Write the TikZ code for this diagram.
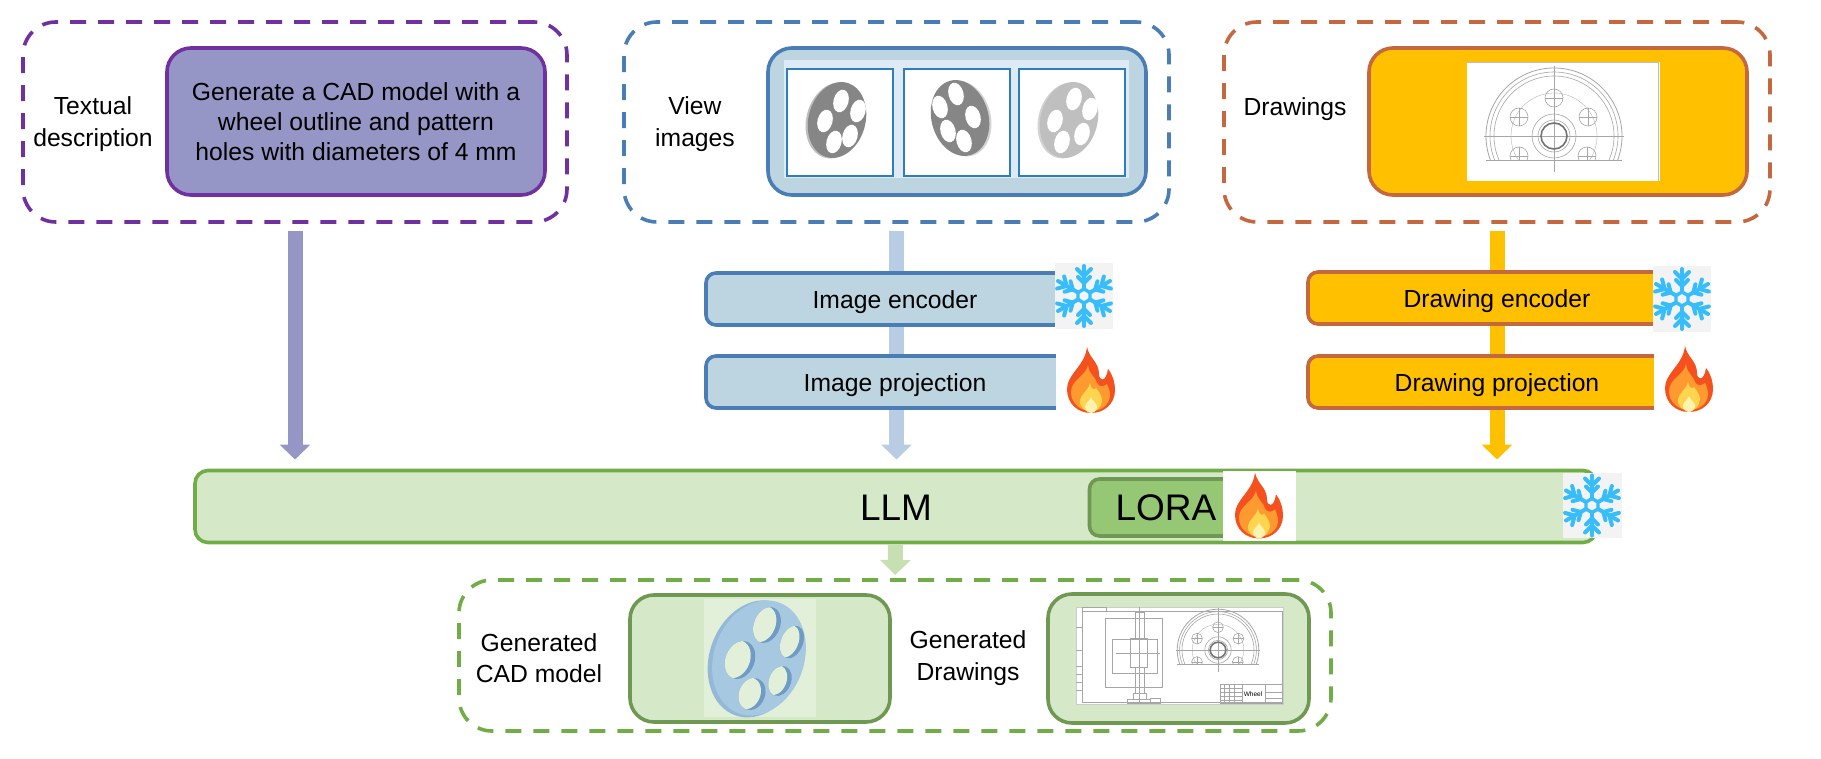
\documentclass[tikz,border=0pt]{standalone}
\usepackage{fontspec}
\setmainfont{Liberation Sans}
\usetikzlibrary{arrows.meta,calc}
\definecolor{pur}{HTML}{7030A0}
\definecolor{purf}{HTML}{9696C6}
\definecolor{blu}{HTML}{4A7DB5}
\definecolor{bluf}{HTML}{BDD5E0}
\definecolor{blua}{HTML}{B8CCE4}
\definecolor{org}{HTML}{C5673F}
\definecolor{orgf}{HTML}{FFC000}
\definecolor{grn}{HTML}{70AD47}
\definecolor{grnd}{HTML}{6F9853}
\definecolor{grnf}{HTML}{D5E8C8}
\definecolor{grna}{HTML}{C6E0B4}
\definecolor{lorf}{HTML}{95C775}
\definecolor{snow}{HTML}{38BDFB}
\definecolor{drw}{HTML}{A6A6A6}
\definecolor{imgbg}{HTML}{E2F0D9}
\definecolor{flameA}{HTML}{F4511E}
\definecolor{flameB}{HTML}{FF9A30}
\definecolor{flameC}{HTML}{FFD54F}
\definecolor{flameD}{HTML}{FFF3B0}
\definecolor{pbg}{HTML}{DEEAF6}
\definecolor{pln}{HTML}{2E7DBE}
\definecolor{cadf}{HTML}{A6C8E0}
\definecolor{cadr}{HTML}{93B9D6}
\definecolor{cadh}{HTML}{6F9CC4}
\definecolor{snbg}{HTML}{F3F3F3}
\tikzset{
  grp/.style={draw=#1,line width=3.6pt,dash pattern=on 16pt off 12pt,rounded corners=33pt,inner sep=0pt,outer sep=0pt},
  box/.style={line width=3.6pt,rounded corners=24pt,inner sep=0pt,outer sep=0pt},
  bar/.style={line width=3.6pt,rounded corners=10pt,inner sep=0pt,outer sep=0pt,font=\fontsize{24.7}{30}\selectfont,text height=19pt,text depth=0pt},
  lab/.style={align=center,inner sep=0pt,font=\fontsize{24.7}{30}\selectfont},
  big/.style={inner sep=0pt,font=\fontsize{37}{40}\selectfont},
  fat/.style={line width=15pt,-{Triangle[width=30pt,length=15pt]}},
  panel/.style={draw=pln,fill=white,line width=1.4pt,inner sep=0pt,outer sep=0pt},
  snowpic/.pic={
    \begin{scope}[draw=snow,line width=4pt,line cap=round]
      \foreach \a in {0,60,...,300}{
        \begin{scope}[rotate=\a]
          \draw (0,7) -- (0,30);
          \draw (-7,27) -- (0,20) -- (7,27);
          \draw (-6,19) -- (0,13) -- (6,19);
        \end{scope}}
      \draw[line width=3.4pt] (0,7) -- (6,3.5) -- (6,-3.5) -- (0,-7) -- (-6,-3.5) -- (-6,3.5) -- cycle;
    \end{scope}},
  flamepic/.pic={
    \fill[flameA] (-4,-33) .. controls (-2,-22) and (8,-18) .. (8,-6) .. controls (8,1) and (15,3) .. (17,-11) .. controls (22,-5) and (24,3) .. (24,10) .. controls (24,24) and (13,33) .. (0,33) .. controls (-13,33) and (-24,24) .. (-24,9) .. controls (-24,-6) and (-6,-14) .. (-4,-33) -- cycle;
    \fill[flameB] (-3,-15) .. controls (-2,-5) and (5,-3) .. (6,3) .. controls (8,8) and (14,6) .. (16,4) .. controls (19,10) and (19,14) .. (19,16) .. controls (18,26) and (9,31) .. (0,31) .. controls (-10,31) and (-20,24) .. (-20,12) .. controls (-20,0) and (-5,-4) .. (-3,-15) -- cycle;
    \fill[flameC] (-1,3) .. controls (0,9) and (3,11) .. (5,8) .. controls (9,13) and (11,17) .. (11,21) .. controls (10,28) and (5,32) .. (0,32) .. controls (-6,32) and (-12,27) .. (-11,20) .. controls (-10,14) and (-3,11) .. (-1,3) -- cycle;
    \fill[flameD] (0,17) .. controls (1,21) and (6,23) .. (6,27) .. controls (6,30) and (3,33) .. (0,33) .. controls (-3,33) and (-6,30) .. (-6,27) .. controls (-6,23) and (-1,21) .. (0,17) -- cycle;
  },
  halfwheel/.pic={
    \begin{scope}[draw=drw,line width=0.6pt]
      \begin{scope}
        \clip (-72,-72) rectangle (72,24);
        \draw[line width=0.8pt] (0,0) circle[radius=68];
        \draw (0,0) circle[radius=64];
        \draw (0,0) circle[radius=60];
        \draw[line width=0.3pt] (0,0) circle[radius=43];
        \foreach \p in {(0,-38),(-35,-19),(34,-19),(-35,20),(33,20)}{
          \draw \p circle[radius=9];
          \draw[line width=0.3pt] \p ++(-9,0) -- ++(18,0);
          \draw[line width=0.3pt] \p ++(0,-9) -- ++(0,18);}
      \end{scope}
      \draw (-68,24) -- (68,24);
      \draw[line width=0.3pt] (-70,0) -- (70,0);
      \draw[line width=0.3pt] (0,-70) -- (0,36);
      \draw (0,0) circle[radius=22];
      \draw[line width=1.6pt,draw=black!55] (0,0) circle[radius=13];
      \draw (0,0) circle[radius=16];
    \end{scope}}
}
\newcommand{\wheelicon}[8]{% cx cy angle fill holes rimcolor rimdx holesize
  \fill[#6,rotate around={#3:(#1,#2)}] (#1+#7,#2+1) ellipse[x radius=28.5pt,y radius=38.5pt];
  \fill[#4,rotate around={#3:(#1,#2)}] (#1,#2) ellipse[x radius=28.5pt,y radius=38.5pt];
  \foreach \hx/\hy in {#5}{
    \fill[white,rotate around={#3:(#1+\hx,#2+\hy)}] (#1+\hx,#2+\hy) ellipse[x radius=#8pt,y radius=11.5pt];}
}
\newcommand{\cadhole}[4]{% x y a b
  \begin{scope}[rotate around={-22:(#1,#2)}]
    \fill[cadh] (#1,#2) ellipse[x radius=#3pt,y radius=#4pt];
    \begin{scope}
      \clip (#1,#2) ellipse[x radius=#3pt,y radius=#4pt];
      \fill[imgbg] (#1-4.5,#2+1) ellipse[x radius=#3pt,y radius=#4pt];
    \end{scope}
  \end{scope}
}
\begin{document}
\begin{tikzpicture}[x=1pt,y=-1pt]
\useasboundingbox (0,0) rectangle (1821,759);
% groups
\node[grp=pur,minimum width=544pt,minimum height=200pt] (gt) at (295,122) {};
\node[grp=blu,minimum width=545pt,minimum height=200pt] (gi) at (896.5,122) {};
\node[grp=org,minimum width=546pt,minimum height=200pt] (gd) at (1497,122) {};
\node[grp=grn,minimum width=872pt,minimum height=151pt] (gout) at (895,655.5) {};
% LLM bar
\node[bar,draw=grn,fill=grnf,rounded corners=13pt,minimum width=1401pt,minimum height=72pt] (llm) at (895.5,506.5) {};
% connectors
\draw[fat,purf,shorten <=9pt,shorten >=11pt] (gt.south) -- (gt.south |- llm.north);
\draw[fat,blua,shorten <=9pt,shorten >=11pt] (gi.south) -- (gi.south |- llm.north);
\draw[fat,orgf,shorten <=9pt,shorten >=11pt] (gd.south) -- (gd.south |- llm.north);
\draw[fat,grna,shorten <=2pt,shorten >=5pt] (llm.south) -- (gout.north);
% top boxes
\node[lab] (ttext) at (93,124) {Textual\\[1.5pt]description};
\node[box,draw=pur,fill=purf,minimum width=378pt,minimum height=147pt,lab] (tbox) at (356,121.5) {Generate a CAD model with a\\wheel outline and pattern\\holes with diameters of 4 mm};
\node[lab] (vtext) at (695,124) {View\\[1.5pt]images};
\node[box,draw=blu,fill=bluf,minimum width=378pt,minimum height=147pt] (vbox) at (957,121.5) {};
\node[fill=pbg,minimum width=345pt,minimum height=118pt,inner sep=0pt] (vimg) at (956.5,119) {};
\node[panel,minimum width=106pt,minimum height=107pt] (v1) at (840,122.5) {};
\node[panel,minimum width=106pt,minimum height=107pt] (v2) at (957,122.5) {};
\node[panel,minimum width=106pt,minimum height=107pt] (v3) at (1072,122.5) {};
\draw[line width=2.4pt,pln] (v1.south west) -- (v1.south east);
\wheelicon{837}{120}{-15}{gray!95}{4/-19,21/-9,-12/1,13/16,-3/22}{gray!50}{-2}{7.5}
\wheelicon{960}{118}{15}{gray!95}{-4/-24,-20/-11,13/-1,-12/13,4/23}{gray!35}{2}{7.5}
\wheelicon{1069}{120}{-15}{gray!50}{5/-21,21/-11,-14/1,13/14,-7/22}{gray!35}{-2}{7.5}
\node[lab] (dtext) at (1295,109) {Drawings};
\node[box,draw=org,fill=orgf,minimum width=378pt,minimum height=147pt] (dbox) at (1558,121.5) {};
\node[fill=white,minimum width=193pt,minimum height=119pt,inner sep=0pt] (dimg) at (1563.5,121.5) {};
\draw[gray!50,line width=0.8pt] (dimg.north west) ++(0,1) -- ++(192,0) (dimg.north east) ++(-2,0) -- ++(0,119);
\pic at (1554,136) {halfwheel};
% encoders
\node[bar,draw=blu,fill=bluf,minimum width=378pt,minimum height=52pt] (ie) at (895,299) {Image encoder};
\node[bar,draw=blu,fill=bluf,minimum width=378pt,minimum height=52pt] (ip) at (895,382) {Image projection};
\node[bar,draw=org,fill=orgf,minimum width=378pt,minimum height=52pt] (de) at (1497,298) {Drawing encoder};
\node[bar,draw=org,fill=orgf,minimum width=378pt,minimum height=52pt] (dp) at (1497,382) {Drawing projection};
% freeze / fire icons
\fill[snbg] (1055,263) rectangle (1113,329);
\pic at (1084,296) {snowpic};
\fill[white] (1056,340) rectangle (1125,416);
\pic at (1091,380) {flamepic};
\fill[snbg] (1653,266) rectangle (1711,332);
\pic at (1682,299) {snowpic};
\fill[white] (1654,340) rectangle (1725,416);
\pic at (1689,379) {flamepic};
% LLM contents
\node[big] (llmt) at (896,508) {LLM};
\node[bar,draw=grnd,fill=lorf,minimum width=155pt,minimum height=57pt] (lora) at (1167,507.5) {};
\node[big] (lorat) at (1166,508) {LORA};
\fill[white] (1223,471) rectangle (1296,541);
\pic at (1259,505.5) {flamepic};
\fill[snbg] (1563,473) rectangle (1622,538);
\pic at (1592,505.5) {snowpic};
% generated
\node[lab] (ctext) at (539,658) {Generated\\[1.5pt]CAD model};
\node[box,draw=grnd,fill=grnf,minimum width=260pt,minimum height=127pt] (cbox) at (760,658.5) {};
\node[fill=imgbg,minimum width=112pt,minimum height=118pt,inner sep=0pt] (cimg) at (760,658) {};
\fill[cadr,rotate around={-20:(759,658)}] (756,660) ellipse[x radius=46pt,y radius=60pt];
\fill[cadf,rotate around={-20:(759,658)}] (759,658) ellipse[x radius=45pt,y radius=59pt];
\cadhole{767}{625}{13}{18.5}
\cadhole{792}{642}{11}{17}
\cadhole{740}{660}{14.5}{19.5}
\cadhole{780}{681}{11}{15.5}
\cadhole{752}{694}{13}{16.5}
\node[lab] (gtext) at (968,658) {Generated\\[1.5pt]Drawings};
\node[box,draw=grnd,fill=grnf,minimum width=261pt,minimum height=129pt] (ddbox) at (1178.5,658.5) {};
\node[fill=white,draw=gray!40,line width=0.6pt,minimum width=207pt,minimum height=97pt,inner sep=0pt] (ddimg) at (1179.5,655.5) {};
\begin{scope}[draw=drw,line width=0.5pt]
  \draw (1082,611) rectangle (1282,702);
  \draw (1082,607) rectangle (1106,611);
  \foreach \yy in {627,650,666,674,682,690}{\draw (1076,\yy) -- (1082,\yy);}
  \draw[line width=0.8pt] (1135,612) rectangle (1144,638) (1130,638) rectangle (1147,667) (1135,667) rectangle (1144,693) (1133,693) rectangle (1146,699);
  \draw (1105,618) rectangle (1162,687) (1112,639) rectangle (1157,673);
  \draw (1128,611) -- (1150,611) (1139,607) -- (1139,704) (1116,653) -- (1160,653);
  \draw (1127,699) rectangle (1150,703) (1150,698) rectangle (1160,703);
  \draw (1220,684) rectangle (1282,703) (1242,684) -- (1242,703) (1265,684) -- (1265,703) (1265,692) -- (1282,692) (1265,698) -- (1282,698);
  \foreach \yy in {688,692,696,700}{\draw[line width=0.3pt] (1220,\yy) -- (1242,\yy);}
  \foreach \xx in {1224,1229,1234}{\draw[line width=0.3pt] (\xx,684) -- (\xx,703);}
\end{scope}
\pic[scale=.6] at (1218,650) {halfwheel};
\node[inner sep=0pt,font=\fontsize{6.5}{7}\selectfont] (ddw) at (1253,694) {Wheel};
\end{tikzpicture}
\end{document}
